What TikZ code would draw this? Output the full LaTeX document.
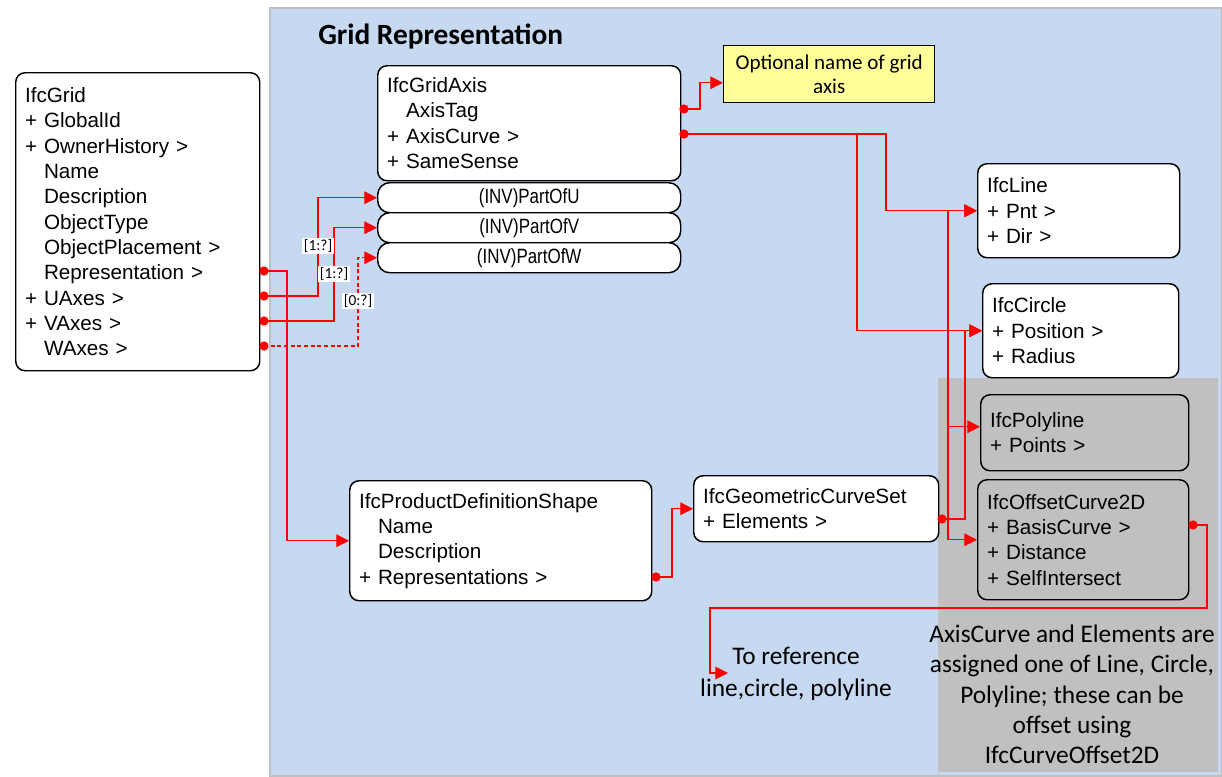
\documentclass[tikz,border=0pt]{standalone}
\usepackage{fontspec}
\setmainfont{Liberation Sans}
\newfontfamily\calibri{Carlito}
\newfontfamily\narrowfont[FakeStretch=0.82]{Liberation Sans}
\usetikzlibrary{arrows.meta}
\definecolor{bgblue}{HTML}{C6D9F1}
\definecolor{bggrey}{HTML}{C0C0C0}
\definecolor{notey}{HTML}{FFFF99}
\newcommand{\ind}{\hphantom{+}\ }
\begin{document}
\begin{tikzpicture}[x=0.75pt,y=-0.75pt,
  ent/.style={draw=black,line width=1.1pt,fill=white,rounded corners=7pt,anchor=north west,
    align=left,inner xsep=7pt,inner ysep=0pt,font=\fontsize{15.5}{19}\selectfont},
  inv/.style={draw=black,line width=1.1pt,fill=white,rounded corners=9pt,anchor=north west,
    align=center,inner sep=0pt,minimum width=227.25pt,minimum height=22.5pt,
    font=\narrowfont\fontsize{15.5}{19}\selectfont},
  dot/.style={circle,fill=red,inner sep=0pt,minimum size=7pt},
  conn/.style={draw=red,line width=0.9pt,-{Triangle[length=9.5pt,width=9.5pt]}},
  lbl/.style={fill=white,inner sep=1pt,font=\calibri\fontsize{11.5}{13}\selectfont}]
\useasboundingbox (0,0) rectangle (1222,776);
% regions
\draw[gray!50,fill=bgblue,line width=1pt] (270,8) rectangle (1222,776);
\fill[bggrey] (938,378) rectangle (1218,772);
\node[anchor=west,inner sep=0pt,font=\calibri\bfseries\fontsize{22}{26}\selectfont] (title) at (318,36) {Grid Representation};
% entities
\node[ent,minimum width=183pt,minimum height=223.5pt,text width=169pt] (grid) at (15,72)
  {IfcGrid\\+ GlobalId\\+ OwnerHistory >\\\ind Name\\\ind Description\\\ind ObjectType\\\ind ObjectPlacement >\\\ind Representation >\\+ UAxes >\\+ VAxes >\\\ind WAxes >};
\node[ent,minimum width=227.25pt,minimum height=86.25pt,text width=213pt] (axis) at (377,65)
  {IfcGridAxis\\\ind AxisTag\\+ AxisCurve >\\+ SameSense};
\node[inv] (pou) at (377,182) {(INV)PartOfU};
\node[inv] (pov) at (377,212) {(INV)PartOfV};
\node[inv] (pow) at (377,242) {(INV)PartOfW};
\node[draw=black,line width=1.1pt,fill=notey,anchor=north west,minimum width=158.25pt,minimum height=42.75pt,
  inner sep=0pt,align=center,font=\calibri\fontsize{15.8}{18}\selectfont] (yel) at (723,45)
  {Optional name of grid\\axis};
\node[ent,minimum width=151.5pt,minimum height=70.5pt,text width=137.5pt] (line) at (977,163)
  {IfcLine\\+ Pnt >\\+ Dir >};
\node[ent,minimum width=147pt,minimum height=70.5pt,text width=133pt] (circ) at (982,283)
  {IfcCircle\\+ Position >\\+ Radius};
\node[ent,fill=bggrey,minimum width=156pt,minimum height=57pt,text width=142pt] (poly) at (980,394)
  {IfcPolyline\\+ Points >};
\node[ent,fill=bggrey,minimum width=158.25pt,minimum height=90pt,text width=144pt] (off) at (977,479)
  {IfcOffsetCurve2D\\+ BasisCurve >\\+ Distance\\+ SelfIntersect};
\node[ent,minimum width=183.75pt,minimum height=49.5pt,text width=169.5pt] (gcs) at (693,475)
  {IfcGeometricCurveSet\\+ Elements >};
\node[ent,minimum width=226.5pt,minimum height=90pt,text width=212.5pt] (pds) at (349,480)
  {IfcProductDefinitionShape\\\ind Name\\\ind Description\\+ Representations >};
% free texts
\node[inner sep=0pt,align=center,font=\calibri\fontsize{19}{23.5}\selectfont] (ref) at (796,674)
  {To reference\\line,circle, polyline};
\coordinate (refTip) at (728,673);
\node[inner sep=0pt,align=center,font=\calibri\fontsize{19}{22.7}\selectfont] (note) at (1072,694.5)
  {AxisCurve and Elements are\\assigned one of Line, Circle,\\Polyline; these can be\\offset using\\IfcCurveOffset2D};
% dots
\node[dot] (gRep) at (264,271) {};
\node[dot] (gU) at (264,296) {};
\node[dot] (gV) at (264,321) {};
\node[dot] (gW) at (264,346) {};
\node[dot] (aTag) at (684,109) {};
\node[dot] (aCurve) at (684,134) {};
\node[dot] (eDot) at (942,519) {};
\node[dot] (pRep) at (656,577) {};
\node[dot] (oBasis) at (1193,525) {};
% connectors
\draw[conn] (gRep.center) -- (287,271) |- (pds.west);
\draw[conn] (gU.center) -- (318,296) |- (pou.west);
\draw[conn] (gV.center) -- (334,321) |- (pov.west);
\draw[conn,dash pattern=on 3pt off 2pt] (gW.center) -- (358,346) |- (pow.west);
\node[lbl] at (318,246) {[1:?]};
\node[lbl] at (334,274) {[1:?]};
\node[lbl] at (358,301) {[0:?]};
\draw[conn] (aTag.center) -- (700,109) |- ([yshift=-6.4pt]yel.west);
\draw[conn] (aCurve.center) -- (886,134) |- (line.west);
\draw[conn] (aCurve.center) -- (857,134) |- (circ.west);
\draw[conn] (eDot.center) -- (948,519) |- (line.west);
\draw[conn] (eDot.center) -- (965,519) |- (circ.west);
\draw[conn] (eDot.center) -- (948,519) |- ([yshift=4.5pt]poly.west);
\draw[conn] (eDot.center) -- (948,519) |- (off.west);
\draw[conn] (pRep.center) -- (672,577) |- (gcs.west);
\draw[conn] (oBasis.center) -- (1207,525) -- (1207,608) -- (710,608) |- (refTip);
\end{tikzpicture}
\end{document}
